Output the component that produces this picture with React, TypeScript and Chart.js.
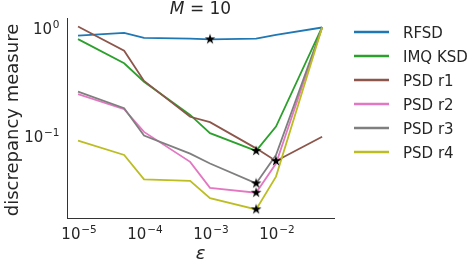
import React, { useEffect, useRef } from 'react';
import { Chart, registerables } from 'chart.js';

Chart.register(...registerables);

// ---- data ----
const epsilons = [1e-5, 5e-5, 1e-4, 5e-4, 1e-3, 5e-3, 1e-2, 5e-2];
const rfsd = [0.84, 0.89, 0.8, 0.79, 0.778, 0.79, 0.856, 1.0];
const imqKsd = [0.78, 0.466, 0.315, 0.155, 0.105, 0.072, 0.121, 1.01];
const psdR1 = [1.02, 0.61, 0.32, 0.149, 0.133, 0.076, 0.058, 0.0975];
const psdR2 = [0.242, 0.175, 0.108, 0.057, 0.0327, 0.0295, 0.055, 1.0];
const psdR3 = [0.255, 0.179, 0.1, 0.068, 0.055, 0.036, 0.066, 1.0];
const psdR4 = [0.0895, 0.066, 0.0393, 0.038, 0.0263, 0.0207, 0.0416, 1.0];

const seriesNames = ['RFSD', 'IMQ KSD', 'PSD r1', 'PSD r2', 'PSD r3', 'PSD r4'];
const seriesValues = [rfsd, imqKsd, psdR1, psdR2, psdR3, psdR4];
const seriesColors = ['#1f77b4', '#2ca02c', '#8c564b', '#e377c2', '#7f7f7f', '#bcbd22'];

const xTickExponents = [-5, -4, -3, -2];
const yTickExponents = [-1, 0];
const tickBase = '10';

const titleVar = 'M';
const titleRest = ' = 10';
const xLabel = 'ε';
const yLabel = 'discrepancy measure';

const TEXT = '#262626';
const FONT = 'DejaVu Sans';

function expText(e: number): string {
  return e < 0 ? '−' + String(-e) : String(e);
}

function makeStar(size: number): HTMLCanvasElement {
  const c = document.createElement('canvas');
  c.width = size;
  c.height = size;
  const ctx = c.getContext('2d')!;
  const cx = size / 2;
  const cy = size / 2;
  const R = size / 2 - 0.5;
  const r = R * 0.382;
  ctx.beginPath();
  for (let i = 0; i < 10; i++) {
    const ang = -Math.PI / 2 + (i * Math.PI) / 5;
    const rad = i % 2 === 0 ? R : r;
    ctx.lineTo(cx + rad * Math.cos(ang), cy + rad * Math.sin(ang));
  }
  ctx.closePath();
  ctx.fillStyle = '#000';
  ctx.fill();
  return c;
}

const MAIN_PX = 15;
const SUP_PX = 10.5;
const SUP_RISE = 6.5;

function drawPower(ctx: CanvasRenderingContext2D, e: number, x: number, baseline: number, align: 'center' | 'right') {
  ctx.font = `${MAIN_PX}px ${FONT}`;
  const w1 = ctx.measureText(tickBase).width;
  ctx.font = `${SUP_PX}px ${FONT}`;
  const sup = expText(e);
  const w2 = ctx.measureText(sup).width;
  const gap = 0.8;
  const total = w1 + gap + w2;
  const start = align === 'center' ? x - total / 2 : x - total;
  ctx.textAlign = 'left';
  ctx.textBaseline = 'alphabetic';
  ctx.font = `${MAIN_PX}px ${FONT}`;
  ctx.fillText(tickBase, start, baseline);
  ctx.font = `${SUP_PX}px ${FONT}`;
  ctx.fillText(sup, start + w1 + gap, baseline - SUP_RISE);
}

const textPlugin = {
  id: 'textPlugin',
  afterDraw(chart: any) {
    const ctx = chart.ctx as CanvasRenderingContext2D;
    const area = chart.chartArea;
    const xs = chart.scales.x;
    const ys = chart.scales.y;
    ctx.save();
    ctx.fillStyle = TEXT;
    // tick labels
    xTickExponents.forEach((e) => {
      const px = xs.getPixelForValue(Math.pow(10, e));
      drawPower(ctx, e, px + 1, area.bottom + 21, 'center');
    });
    yTickExponents.forEach((e) => {
      const py = ys.getPixelForValue(Math.pow(10, e));
      drawPower(ctx, e, area.left - 7.5, py + 6.8, 'right');
    });
    // title
    ctx.textBaseline = 'alphabetic';
    ctx.textAlign = 'left';
    ctx.font = `italic 17px ${FONT}`;
    const wM = ctx.measureText(titleVar).width;
    ctx.font = `17px ${FONT}`;
    const wR = ctx.measureText(titleRest).width;
    const cx = (area.left + area.right) / 2;
    const x0 = cx - (wM + wR) / 2;
    ctx.font = `italic 17px ${FONT}`;
    ctx.fillText(titleVar, x0, 14);
    ctx.font = `17px ${FONT}`;
    ctx.fillText(titleRest, x0 + wM, 14);
    // x label
    ctx.textAlign = 'center';
    ctx.font = `italic 18px ${FONT}`;
    ctx.fillText(xLabel, cx, 259);
    // y label
    ctx.save();
    ctx.translate(13, (area.top + area.bottom) / 2 + 2);
    ctx.rotate(-Math.PI / 2);
    ctx.font = `18px ${FONT}`;
    ctx.textBaseline = 'middle';
    ctx.fillText(yLabel, 0, 0);
    ctx.restore();
    // legend
    ctx.textAlign = 'left';
    ctx.textBaseline = 'alphabetic';
    ctx.font = `15px ${FONT}`;
    seriesNames.forEach((name, i) => {
      const y = 32 + i * 24;
      ctx.strokeStyle = seriesColors[i];
      ctx.lineWidth = 2.5;
      ctx.beginPath();
      ctx.moveTo(354, y);
      ctx.lineTo(389, y);
      ctx.stroke();
      ctx.fillStyle = TEXT;
      ctx.fillText(name, 403, y + 5.5);
    });
    ctx.restore();
  },
};

export default function App() {
  const ref = useRef<HTMLCanvasElement | null>(null);
  useEffect(() => {
    if (!ref.current) return;
    const star = makeStar(12);
    const starPoints = seriesValues.map((vals) => {
      let idx = 0;
      vals.forEach((v, i) => {
        if (v < vals[idx]) idx = i;
      });
      return { x: epsilons[idx], y: vals[idx] };
    });
    const lineSets = seriesValues.map((vals, i) => ({
      label: seriesNames[i],
      data: vals.map((v, j) => ({ x: epsilons[j], y: v })),
      borderColor: seriesColors[i],
      backgroundColor: seriesColors[i],
      borderWidth: 1.8,
      pointRadius: 0,
      tension: 0,
      fill: false,
      order: seriesValues.length - i,
    }));
    const chart = new Chart(ref.current, {
      type: 'line',
      data: {
        datasets: [
          ...lineSets,
          {
            label: 'minima',
            data: starPoints,
            showLine: false,
            pointStyle: star as any,
            pointRadius: 5,
            order: 0,
          } as any,
        ],
      },
      options: {
        animation: false,
        responsive: false,
        devicePixelRatio: 1,
        layout: { padding: { top: 18, right: 138, bottom: 0, left: 0 } },
        plugins: {
          legend: { display: false },
          title: { display: false },
          tooltip: { enabled: false },
        },
        scales: {
          x: {
            type: 'logarithmic',
            min: Math.pow(10, -5.167),
            max: Math.pow(10, -1.121),
            grid: { display: false, drawTicks: false },
            border: { display: true, color: '#333333', width: 1 },
            ticks: { display: false },
            afterBuildTicks: (s: any) => {
              s.ticks = xTickExponents.map((e) => ({ value: Math.pow(10, e) }));
            },
            afterFit: (s: any) => {
              s.height = 42;
            },
          },
          y: {
            type: 'logarithmic',
            min: Math.pow(10, -1.764),
            max: Math.pow(10, 0.088),
            grid: { display: false, drawTicks: false },
            border: { display: true, color: '#333333', width: 1 },
            ticks: { display: false },
            afterBuildTicks: (s: any) => {
              s.ticks = yTickExponents.map((e) => ({ value: Math.pow(10, e) }));
            },
            afterFit: (s: any) => {
              s.width = 67;
            },
          },
        },
      },
      plugins: [textPlugin],
    });
    return () => chart.destroy();
  }, []);
  return (
    <div style={{ position: 'fixed', left: 0, top: 0, width: 472, height: 260, background: '#fff' }}>
      <canvas ref={ref} width={472} height={260} style={{ display: 'block' }} />
    </div>
  );
}
